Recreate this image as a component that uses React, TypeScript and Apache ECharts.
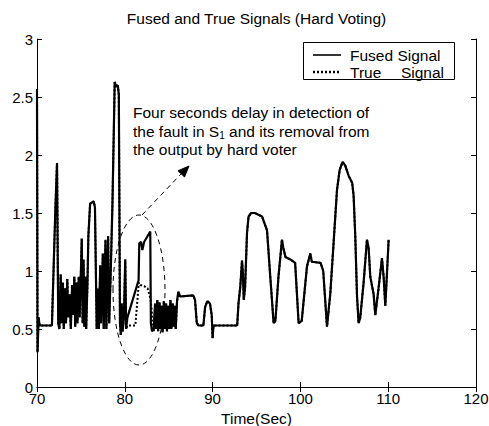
import React, { useEffect, useRef } from "react";
import * as echarts from "echarts";

const chartTitle = "Fused and True Signals (Hard Voting)";
const xAxisName = "Time(Sec)";
const legendNames = ["Fused Signal", "True    Signal"];
const annotationLines = [
  "Four seconds delay in detection of",
  "the fault in S{sub|1} and its removal from",
  "the output by hard voter",
];
const xTicks = [70, 80, 90, 100, 110, 120];
const yTicks = [0, 0.5, 1, 1.5, 2, 2.5, 3];

// [time (s), value] — shared part before the fault
const commonBefore: [number, number][] = [
  [70.0, 2.57], [70.06, 0.3], [70.18, 0.6], [70.3, 0.53], [71.7, 0.53],
  [72.0, 1.3], [72.1, 1.55], [72.28, 1.93], [72.42, 0.55], [72.55, 0.5],
  [72.7, 0.97], [72.8, 0.55], [72.95, 0.9], [73.05, 0.5], [73.2, 0.85],
  [73.3, 0.55], [73.45, 0.93], [73.55, 0.6], [73.7, 0.8], [73.85, 0.5],
  [74.0, 0.88], [74.1, 0.62], [74.25, 0.95], [74.35, 0.52], [74.5, 0.9],
  [74.6, 0.55], [74.75, 0.95], [74.85, 0.6], [74.95, 0.85], [75.1, 1.28],
  [75.2, 0.55], [75.3, 1.1], [75.4, 0.52], [75.5, 0.95], [75.6, 0.5],
  [75.75, 0.9], [75.85, 1.3], [76.05, 1.58], [76.45, 1.6], [76.6, 1.55],
  [76.8, 0.5], [76.95, 0.85], [77.05, 0.5], [77.2, 1.05], [77.3, 0.55],
  [77.5, 1.15], [77.6, 0.5], [77.8, 1.27], [77.9, 0.5], [78.1, 1.3],
  [78.22, 0.55], [78.4, 1.0], [78.6, 1.6], [78.85, 2.63], [79.0, 2.59],
  [79.2, 2.6], [79.32, 2.52], [79.45, 0.55], [79.55, 0.45], [79.65, 0.72],
  [79.75, 0.48], [79.9, 0.6], [80.05, 1.1], [80.15, 0.5],
];

// fused output during the undetected fault
const fusedFault: [number, number][] = [
  [80.3, 0.6], [81.57, 0.92], [81.65, 1.24], [81.85, 1.25], [82.0, 1.18],
  [82.2, 1.25], [82.9, 1.34], [82.97, 0.55], [83.1, 0.48], [83.3, 0.5],
];

// true signal during the same interval
const trueFault: [number, number][] = [
  [80.3, 0.53], [81.2, 0.53], [81.6, 0.9], [81.75, 0.88], [82.2, 0.87],
  [82.6, 0.85], [82.95, 0.75], [83.3, 0.48],
];

// shared part after the faulty sensor is removed
const commonAfter: [number, number][] = [
  [83.45, 0.72], [83.55, 0.5], [83.7, 0.75], [83.8, 0.48], [83.95, 0.73],
  [84.05, 0.5], [84.2, 0.7], [84.3, 0.47], [84.45, 0.74], [84.55, 0.5],
  [84.7, 0.72], [84.8, 0.48], [84.95, 0.7], [85.05, 0.5], [85.2, 0.75],
  [85.3, 0.5], [85.45, 0.72], [85.55, 0.52], [85.7, 0.7], [85.8, 0.5],
  [85.95, 0.74], [86.1, 0.82], [86.3, 0.78], [87.8, 0.79], [88.0, 0.75],
  [88.2, 0.55], [88.4, 0.53], [88.95, 0.53], [89.15, 0.69], [89.4, 0.74],
  [89.7, 0.72], [89.9, 0.62], [90.0, 0.42], [90.1, 0.53], [92.8, 0.53],
  [92.95, 0.72], [93.15, 0.86], [93.35, 1.09], [93.45, 0.98], [93.55, 0.75],
  [93.7, 0.86], [93.92, 1.33], [94.1, 1.47], [94.4, 1.5], [94.8, 1.5],
  [95.1, 1.49], [95.63, 1.47], [96.2, 1.35], [96.57, 0.95], [96.95, 0.55],
  [97.15, 0.57], [97.5, 0.95], [97.9, 1.27], [98.05, 1.2], [98.3, 1.12],
  [98.85, 1.1], [99.4, 1.07], [99.8, 0.55], [100.15, 0.57], [100.75, 1.04],
  [101.13, 1.15], [101.3, 1.08], [102.3, 1.07], [102.6, 1.0], [103.03, 0.52],
  [103.4, 0.8], [103.78, 1.24], [104.17, 1.7], [104.47, 1.87], [104.8, 1.94],
  [105.1, 1.91], [105.5, 1.82], [105.9, 1.76], [106.06, 1.65], [106.25, 1.3],
  [106.45, 0.78], [106.63, 0.55], [106.82, 0.6], [107.2, 0.9], [107.58, 1.27],
  [107.77, 1.2], [107.96, 0.95], [108.34, 0.8], [108.53, 0.62], [108.9, 0.85],
  [109.29, 1.11], [109.48, 0.95], [109.67, 0.7], [109.86, 0.98], [110.05, 1.27],
];

const fusedSignal = [...commonBefore, ...fusedFault, ...commonAfter];
const trueSignal = [...commonBefore, ...trueFault, ...commonAfter];

const FONT = "'Liberation Sans', Arial, Helvetica, sans-serif";

export default function App() {
  const ref = useRef<HTMLDivElement>(null);

  useEffect(() => {
    if (!ref.current) return;
    const chart = echarts.init(ref.current, undefined, { renderer: "svg" });
    const xMin = xTicks[0];
    const xMax = xTicks[xTicks.length - 1];
    const xInt = xTicks[1] - xTicks[0];
    const yMin = yTicks[0];
    const yMax = yTicks[yTicks.length - 1];
    const yInt = yTicks[1] - yTicks[0];

    const axisCommon = {
      axisLine: { show: true, lineStyle: { color: "#000", width: 1 } },
      axisTick: { show: true, inside: true, length: 5, lineStyle: { color: "#000" } },
      splitLine: { show: false },
    };

    chart.setOption({
      animation: false,
      backgroundColor: "#fff",
      textStyle: { fontFamily: FONT },
      grid: {
        left: 37,
        right: 13,
        top: 39,
        bottom: 39,
        containLabel: false,
        outerBoundsMode: "none",
      },
      xAxis: [
        {
          type: "value",
          min: xMin,
          max: xMax,
          interval: xInt,
          name: xAxisName,
          nameLocation: "middle",
          nameGap: 17,
          nameTextStyle: { color: "#000", fontSize: 15.5, fontFamily: FONT },
          axisLabel: { color: "#000", fontSize: 15, margin: 4, fontFamily: FONT },
          ...axisCommon,
        },
        {
          type: "value",
          position: "top",
          min: xMin,
          max: xMax,
          interval: xInt,
          axisLabel: { show: false },
          ...axisCommon,
        },
      ],
      yAxis: [
        {
          type: "value",
          min: yMin,
          max: yMax,
          interval: yInt,
          axisLabel: { color: "#000", fontSize: 15, margin: 4, fontFamily: FONT },
          ...axisCommon,
        },
        {
          type: "value",
          position: "right",
          min: yMin,
          max: yMax,
          interval: yInt,
          axisLabel: { show: false },
          ...axisCommon,
        },
      ],
      series: [
        {
          name: legendNames[1],
          type: "line",
          data: trueSignal,
          showSymbol: false,
          symbol: "none",
          xAxisIndex: 0,
          yAxisIndex: 0,
          lineStyle: { color: "#000", width: 2, type: [2, 2] },
          z: 3,
        },
        {
          name: legendNames[0],
          type: "line",
          data: fusedSignal,
          showSymbol: false,
          symbol: "none",
          xAxisIndex: 0,
          yAxisIndex: 0,
          lineStyle: { color: "#000", width: 2.2, type: "solid" },
          z: 4,
        },
      ],
      graphic: [
        {
          type: "text",
          x: 256.5,
          y: 18,
          style: {
            text: chartTitle,
            fontSize: 15.5,
            fontFamily: FONT,
            fill: "#000",
            align: "center",
            verticalAlign: "middle",
          },
        },
        {
          type: "group",
          z: 100,
          children: [
            {
              type: "rect",
              shape: { x: 303.5, y: 42.5, width: 151, height: 37 },
              style: { fill: "#fff", stroke: "#000", lineWidth: 1 },
            },
            {
              type: "line",
              shape: { x1: 313, y1: 55, x2: 341, y2: 55 },
              style: { stroke: "#000", lineWidth: 1.6 },
            },
            {
              type: "line",
              shape: { x1: 313, y1: 72, x2: 341, y2: 72 },
              style: { stroke: "#000", lineWidth: 2.4, lineDash: [2, 2] },
            },
            {
              type: "text",
              x: 350,
              y: 55,
              style: {
                text: legendNames[0],
                fontSize: 15.5,
                fontFamily: FONT,
                fill: "#000",
                align: "left",
                verticalAlign: "middle",
              },
            },
            {
              type: "text",
              x: 350,
              y: 72,
              style: {
                text: legendNames[1].split(/\s+/)[0],
                fontSize: 15.5,
                fontFamily: FONT,
                fill: "#000",
                align: "left",
                verticalAlign: "middle",
              },
            },
            {
              type: "text",
              x: 444,
              y: 72,
              style: {
                text: legendNames[1].split(/\s+/)[1],
                fontSize: 15.5,
                fontFamily: FONT,
                fill: "#000",
                align: "right",
                verticalAlign: "middle",
              },
            },
          ],
        },
        {
          type: "text",
          x: 133,
          y: 103.5,
          z: 50,
          style: {
            text: annotationLines.join("\n"),
            fontSize: 15.5,
            fontFamily: FONT,
            fill: "#000",
            lineHeight: 18.5,
            align: "left",
            verticalAlign: "top",
            rich: {
              sub: {
                fontSize: 10,
                fontFamily: FONT,
                fill: "#000",
                verticalAlign: "bottom",
                lineHeight: 18.5,
              },
            },
          },
        },
        {
          type: "ellipse",
          z: 50,
          shape: { cx: 139, cy: 290, rx: 26, ry: 75 },
          style: { fill: "none", stroke: "#000", lineWidth: 1, lineDash: [5, 4] },
        },
        {
          type: "line",
          z: 50,
          shape: { x1: 142, y1: 215, x2: 181, y2: 174 },
          style: { stroke: "#000", lineWidth: 1, lineDash: [5, 4] },
        },
        {
          type: "polygon",
          z: 50,
          shape: {
            points: [
              [189, 166],
              [184.5, 177],
              [178, 170.8],
            ],
          },
          style: { fill: "#000", stroke: "#000", lineWidth: 1 },
        },
      ],
    });

    return () => {
      chart.dispose();
    };
  }, []);

  return (
    <div
      ref={ref}
      style={{ position: "fixed", left: 0, top: 0, width: 489, height: 426, background: "#fff" }}
    />
  );
}
